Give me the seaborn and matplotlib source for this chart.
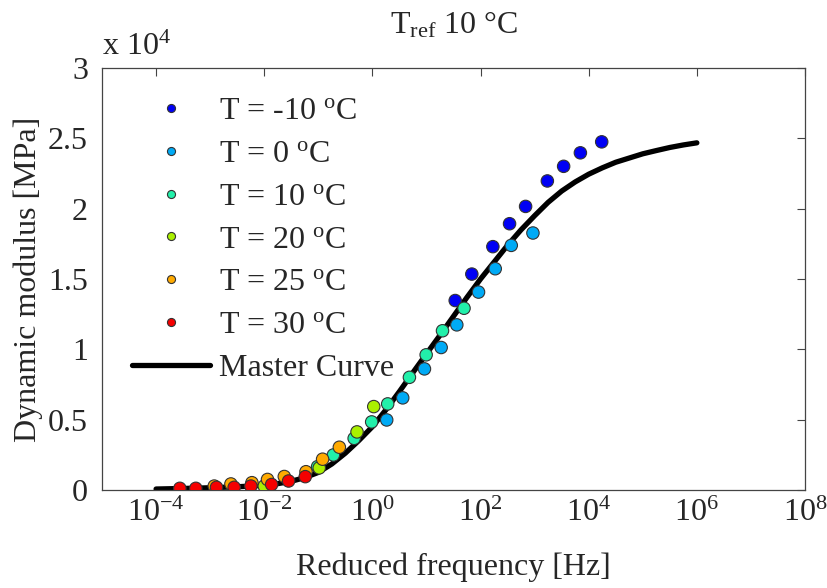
import numpy as np
import pandas as pd
import matplotlib
matplotlib.use("Agg")
import matplotlib.pyplot as plt
import seaborn as sns
from matplotlib.ticker import LogFormatterMathtext, FixedLocator, FuncFormatter, NullLocator

# ---------------- data ----------------
series_labels = ["T = -10 $^{\\mathrm{o}}$C", "T = 0 $^{\\mathrm{o}}$C", "T = 10 $^{\\mathrm{o}}$C",
                 "T = 20 $^{\\mathrm{o}}$C", "T = 25 $^{\\mathrm{o}}$C", "T = 30 $^{\\mathrm{o}}$C"]
series_colors = ["#0000F5", "#00AAF5", "#22F0AA", "#AAF000", "#FFAA00", "#F50000"]

# reduced frequency [Hz]
f_m10 = [34.0, 69.0, 169, 344, 681, 1720, 3440, 7020, 17400]
f_0 = [1.84, 3.64, 9.18, 18.7, 36.4, 91.8, 187, 370, 931]
f_10 = [0.097, 0.19, 0.46, 0.97, 1.92, 4.84, 9.87, 19.8, 49.5]
f_20 = [0.010, 0.104, 0.52, 1.06]
f_25 = [0.00119, 0.00242, 0.00592, 0.0115, 0.0235, 0.0592, 0.120, 0.245]
f_30 = [0.000275, 0.000543, 0.00131, 0.00278, 0.00567, 0.0137, 0.0282, 0.0574]

# dynamic modulus [MPa]
E_m10 = [13470, 15350, 17300, 18930, 20160, 21970, 23010, 23970, 24750]
E_0 = [4980, 6550, 8610, 10130, 11740, 14070, 15730, 17390, 18270]
E_10 = [1660, 2490, 3670, 4840, 6120, 8010, 9610, 11320, 12920]
E_20 = [280, 1570, 4130, 5930]
E_25 = [280, 430, 520, 750, 960, 1300, 2190, 3040]
E_30 = [120, 120, 190, 190, 280, 390, 640, 950]

# master curve (read at decade exponents)
master_logf = [-4, -3.5, -3, -2.5, -2.25, -2, -1.75, -1.5, -1.25, -1, -0.75, -0.5, -0.25,
               0, 0.25, 0.5, 0.75, 1, 1.25, 1.5, 1.75, 2, 2.25, 2.5, 2.75, 3, 3.25,
               3.5, 3.75, 4, 4.25, 4.5, 4.75, 5, 5.25, 5.5, 5.75, 6]
master_E = [70, 110, 160, 230, 280, 340, 450, 620, 880, 1250, 1850, 2620, 3520,
            4500, 5700, 7000, 8350, 9680, 11000, 12350, 13700, 15000, 16200, 17400, 18500, 19500, 20450,
            21250, 21900, 22450, 22900, 23300, 23600, 23900, 24130, 24350, 24530, 24680]

x_ticks = [1e-4, 1e-2, 1e0, 1e2, 1e4, 1e6, 1e8]
y_ticks = [0, 0.5, 1, 1.5, 2, 2.5, 3]

# ---------------- build tables ----------------
freqs = [f_m10, f_0, f_10, f_20, f_25, f_30]
mods = [E_m10, E_0, E_10, E_20, E_25, E_30]
rows = []
for lab, ff, ee in zip(series_labels, freqs, mods):
    for a, b in zip(ff, ee):
        rows.append({"series": lab, "freq": a, "E": b / 1e4})
df = pd.DataFrame(rows)
mc = pd.DataFrame({"freq": np.power(10.0, master_logf), "E": np.array(master_E) / 1e4})

# ---------------- style ----------------
sns.set_style("white")
plt.rcParams["font.family"] = ["Liberation Serif", "DejaVu Serif"]
plt.rcParams["mathtext.fontset"] = "custom"
plt.rcParams["mathtext.rm"] = "Liberation Serif"
plt.rcParams["mathtext.it"] = "Liberation Serif:italic"
plt.rcParams["mathtext.default"] = "regular"

FS = 23
fig = plt.figure(figsize=(8.28, 5.88), dpi=100)
ax = fig.add_axes([102 / 828, 1 - 490 / 588, (805 - 102) / 828, (490 - 68) / 588])

sns.lineplot(data=mc, x="freq", y="E", ax=ax, color="black", lw=3.8,
             label="Master Curve", zorder=2, legend=False)
sns.scatterplot(data=df, x="freq", y="E", hue="series", hue_order=series_labels,
                palette=series_colors, ax=ax, s=80, edgecolor="#333333",
                linewidth=0.8, zorder=3, legend=True)

ax.set_xscale("log")
ax.set_xlim(1e-5, 1e8)
ax.set_ylim(0, 3)
ax.xaxis.set_major_locator(FixedLocator(x_ticks))
ax.xaxis.set_major_formatter(LogFormatterMathtext())
ax.xaxis.set_minor_locator(NullLocator())
ax.yaxis.set_major_locator(FixedLocator(y_ticks))
ax.yaxis.set_major_formatter(FuncFormatter(lambda v, p: "%g" % v))

ax.tick_params(axis="both", which="both", direction="in", length=6, width=0.8,
               top=True, right=True, labelsize=FS, color="#444444")
ax.tick_params(axis="x", pad=6)
ax.tick_params(axis="y", pad=10)
for sp in ax.spines.values():
    sp.set_visible(True)
    sp.set_color("#444444")
    sp.set_linewidth(0.9)

ax.set_xlabel("Reduced frequency [Hz]", fontsize=FS, labelpad=18)
ax.set_ylabel("Dynamic modulus [MPa]", fontsize=FS, labelpad=4)
ax.set_title("T$_{\\mathrm{ref}}$ 10 °C", fontsize=FS, pad=25)
ax.text(0.0, 1.015, "x 10$^{4}$", transform=ax.transAxes, fontsize=FS,
        ha="left", va="bottom")

handles, labels = ax.get_legend_handles_labels()
order = [labels.index(l) for l in series_labels] + [labels.index("Master Curve")]
leg = ax.legend([handles[i] for i in order], [labels[i] for i in order],
                loc="upper left", bbox_to_anchor=(0.0157, 0.977), frameon=False,
                fontsize=FS, markerscale=0.65, handlelength=2.45, handletextpad=0.28,
                labelspacing=0.42, borderaxespad=0.2)

fig.savefig("out.png", dpi=100)
